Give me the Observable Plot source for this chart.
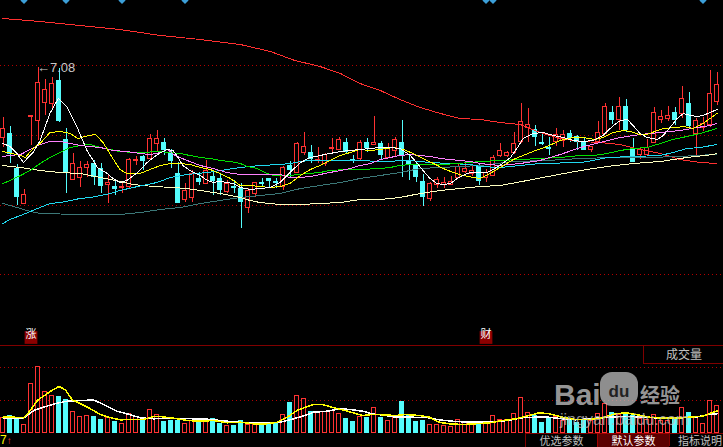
<!DOCTYPE html>
<html><head><meta charset="utf-8">
<script src="https://cdn.jsdelivr.net/npm/d3@7"></script>
<script src="https://cdn.jsdelivr.net/npm/@observablehq/plot@0.6"></script>
<style>
html,body{margin:0;padding:0;background:#000;overflow:hidden}
#wrap{position:relative;width:723px;height:447px;overflow:hidden;background:#000}
#wrap > svg, #wrap > div{position:absolute}
.ui{font-family:"Noto Sans CJK SC",sans-serif;font-size:12px;color:#c0c0c0;line-height:14px;white-space:nowrap}
.btn{font-family:"Noto Sans CJK SC",sans-serif;font-size:11px;color:#c0c0c0;line-height:12px;height:12px;white-space:nowrap;overflow:visible}
</style></head><body><div id="wrap"></div>
<script>
// ---------- candle data (index 0..102) ----------
const open = [6.38,6.42,6.07,5.72,6.59,6.55,6.73,6.72,6.95,6.36, 5.96,5.98,6.08,6.12,6.07,5.91,5.89,5.88,5.89,6.15, 6.19,6.17,6.32,6.33,6.22,6.02,5.76,5.78,5.97,5.92, 5.99,5.97,5.84,5.89,5.87,5.68,5.82,5.93,5.97,5.94, 5.89,6.10,6.03,6.23,6.23,6.15,6.12,6.27,6.26,6.33, 6.16,6.17,6.33,6.31,6.32,6.18,6.25,6.33,6.15,6.10, 5.94,5.77,5.91,5.91,5.91,5.98,6.04,6.02,6.09,5.98, 6.00,6.20,6.20,6.23,6.34,6.48,6.46,6.33,6.28,6.34, 6.35,6.42,6.39,6.34,6.26,6.34,6.42,6.63,6.56,6.69, 6.27,6.21,6.21,6.33,6.56,6.57,6.63,6.62,6.72,6.42, 6.48,6.51,6.74];
const high = [6.58,6.49,6.11,5.86,6.60,7.08,6.96,6.98,7.07,6.47, 6.22,6.14,6.14,6.15,6.12,6.00,5.94,5.93,6.17,6.19, 6.20,6.41,6.45,6.37,6.26,6.13,5.92,6.05,6.03,6.15, 6.03,6.02,5.95,5.95,5.92,5.87,5.93,5.97,5.97,5.97, 6.09,6.14,6.33,6.43,6.30,6.28,6.22,6.37,6.38,6.37, 6.20,6.35,6.37,6.59,6.34,6.32,6.38,6.55,6.20,6.12, 6.01,5.93,5.98,5.98,5.99,6.12,6.13,6.10,6.12,6.06, 6.20,6.32,6.24,6.43,6.72,6.67,6.50,6.43,6.38,6.47, 6.45,6.45,6.40,6.37,6.29,6.54,6.72,6.69,6.78,6.76, 6.37,6.28,6.36,6.68,6.65,6.69,6.68,6.89,6.83,6.57, 6.58,7.05,7.03];
const low = [6.28,6.12,5.70,5.71,6.30,6.35,6.60,6.65,6.53,5.82, 5.95,5.88,5.98,5.90,5.82,5.72,5.80,5.82,5.87,6.10, 6.05,6.15,6.23,6.20,6.07,5.72,5.73,5.73,5.90,5.91, 5.80,5.80,5.82,5.82,5.47,5.62,5.78,5.88,5.88,5.87, 5.85,5.97,6.02,6.20,6.12,6.12,6.09,6.23,6.25,6.22, 6.12,6.15,6.23,6.31,6.16,6.17,6.18,5.98,5.95,5.93, 5.69,5.74,5.87,5.87,5.90,5.97,6.02,5.99,5.90,5.93, 5.99,6.18,6.18,6.21,6.32,6.33,6.29,6.30,6.20,6.29, 6.28,6.33,6.25,6.25,6.23,6.33,6.41,6.51,6.45,6.43, 6.13,6.16,6.20,6.32,6.52,6.54,6.50,6.57,6.47,6.18, 6.44,6.48,6.70];
const close = [6.47,6.22,5.79,5.81,6.60,6.93,6.86,6.92,6.55,6.03, 6.12,6.08,6.11,5.99,5.90,5.93,5.87,5.89,6.16,6.16, 6.15,6.37,6.37,6.26,6.15,5.73,5.85,6.02,5.94,6.05, 5.95,5.86,5.92,5.88,5.74,5.85,5.93,5.92,5.95,5.93, 6.08,6.06,6.32,6.29,6.17,6.16,6.21,6.28,6.36,6.24, 6.15,6.33,6.28,6.33,6.21,6.28,6.36,6.21,6.11,5.99, 5.79,5.92,5.96,5.93,5.94,6.09,6.07,6.05,5.95,6.03, 6.18,6.25,6.23,6.32,6.54,6.51,6.39,6.32,6.27,6.41, 6.41,6.38,6.34,6.26,6.29,6.43,6.69,6.56,6.69,6.46, 6.14,6.26,6.28,6.63,6.59,6.60,6.56,6.77,6.50,6.55, 6.52,6.82,6.91];
const volume = [14.7,16.3,13,7.7,48.7,65.7,41,36.7,36,32.7, 21,15.7,16.7,16,13,14.7,10.3,9,19,15.7, 13,22.7,17.3,10.3,12,12,9,12,11,12, 13.7,9,6.7,7,12,8,8,9,9.3,9.3, 17.7,30,36.7,34,21,20.3,20.3,22,18.7,14, 11,15.3,14.7,24.7,14.3,12,15,31,17.7,11, 12,7.7,7.7,7,6,12.7,10.3,9.3,10,8.7, 17,12.7,12.7,18.7,34.7,19.3,17,10,13.3,16, 12,12.7,9.3,12,12,18.7,28.7,19.3,17.7,19.3, 17,13.7,12.7,17.7,12,11.3,12.7,24.7,20,15.3, 8.7,32,26.7];

// ---------- moving-average lines (index, value) ----------
const ma5Idx = [0,1,2,2.9,4.3,5.3,6.7,7.9,9.2,10.6,12,13.5,14.9,15.7,16.7,17.7,19.2,20.6,21.5,22.5,23.5,24.3,25,25.7,26.7,28.2,29.2,30,31,32,32.9,33.9,35.3,36.7,38.2,39.6,41,42.5,43.9,45.3,46.7,48.2,49.6,51,52.5,53.9,55.3,56.7,58.2,59.2,60,61,62,62.9,63.9,64.9,65.7,66.7,68.2,69.2,71,72.5,73.5,74.3,75.7,77.2,78.6,80,81.5,82.9,84.3,85.7,87.2,88.2,89.2,90,91,92,93.5,94.3,95.3,96.3,97.2,98.2,99.2,100,101,102];
const ma5Val = [6.32,6.29,6.22,6.13,6.23,6.35,6.62,6.77,6.68,6.48,6.25,6.08,6.02,5.97,5.93,5.95,6.03,6.13,6.18,6.23,6.26,6.25,6.18,6.10,6.05,6.00,5.95,5.93,5.94,5.93,5.92,5.88,5.86,5.87,5.88,5.93,6.03,6.13,6.18,6.20,6.22,6.24,6.25,6.26,6.27,6.28,6.28,6.27,6.20,6.12,6.05,5.97,5.92,5.91,5.92,5.97,6.00,6.03,6.03,6.03,6.10,6.18,6.28,6.37,6.42,6.43,6.40,6.38,6.35,6.34,6.35,6.40,6.50,6.55,6.56,6.50,6.42,6.38,6.36,6.40,6.48,6.57,6.62,6.60,6.59,6.60,6.63,6.66];
const ma10Idx = [0,2.5,3.2,4.3,5.3,6.7,8.2,9.6,10.7,12.2,13.2,14.3,15.6,16.7,17.7,19.6,21,22.5,23.9,25.3,26.7,28.2,29.6,31,32.5,33.9,35.3,36.7,38.2,39.6,41,42.5,43.9,45.3,46.7,48.2,49.6,51,52.5,53.9,55.7,57.2,58.6,60,61.5,62.9,64.3,65.7,67.2,68.2,69.6,71,72.9,74.3,75.7,77.7,79.6,81.5,82.9,84.6,85.7,87.2,88.6,89.6,91,92,93.5,94.3,96.3,97.2,98.6,100,101,102];
const ma10Val = [6.24,6.20,6.18,6.27,6.32,6.43,6.44,6.42,6.37,6.40,6.41,6.33,6.18,6.06,6.02,6.02,6.06,6.10,6.12,6.12,6.11,6.08,6.06,6.02,5.97,5.90,5.90,5.89,5.88,5.89,5.92,6.00,6.06,6.10,6.15,6.20,6.23,6.26,6.25,6.26,6.28,6.26,6.22,6.17,6.12,6.07,6.03,6.00,5.98,5.97,6.02,6.08,6.16,6.20,6.24,6.29,6.35,6.38,6.38,6.36,6.38,6.43,6.45,6.44,6.41,6.41,6.45,6.47,6.48,6.49,6.47,6.52,6.57,6.62];
const ma20Idx = [0,1,2.5,3.9,5.3,6.7,8.2,9.6,11,12.5,13.9,15.7,17.7,19.6,21,22.5,23.5,24.6,26.3,28.2,30,32,33.9,36.7,39.6,41,42.5,43.9,45.3,46.7,48.2,49.6,51,52.5,53.9,55.3,56.7,58.2,59.6,61,62.5,63.9,65.3,66.7,68.2,71,73.9,76.7,79.6,82.5,85.3,88.2,91,93.9,96.7,99.2,101,102];
const ma20Val = [6.19,6.20,6.21,6.26,6.31,6.34,6.34,6.32,6.30,6.29,6.28,6.25,6.24,6.22,6.21,6.23,6.26,6.20,6.15,6.10,6.07,6.03,6.01,6.01,6.01,5.98,5.98,5.99,6.01,6.03,6.05,6.07,6.10,6.12,6.16,6.18,6.20,6.21,6.20,6.19,6.17,6.16,6.15,6.14,6.12,6.10,6.12,6.15,6.21,6.28,6.33,6.38,6.41,6.43,6.45,6.48,6.50,6.52];
const ma30Idx = [0,1,2.5,3.9,5.3,6.7,8.2,9.6,11,12.5,13.9,15.3,16.7,18.6,20,22,23.9,25.3,26.7,28.2,29.6,31,32.5,33.9,34.9,36.3,37.7,38.6,41,43.5,45.3,46.7,48.9,51,53.9,55.3,56.7,58.2,62.9,64.9,66.7,68.2,71,73.9,76.7,79.6,82.5,84.3,86.3,88.2,90,92,93.9,95.7,97.7,99.6,101.5,102];
const ma30Val = [5.92,5.95,6.00,6.05,6.12,6.18,6.23,6.28,6.30,6.31,6.28,6.26,6.24,6.23,6.23,6.24,6.23,6.22,6.20,6.18,6.17,6.15,6.14,6.12,6.09,6.07,6.02,6.00,6.00,6.02,6.03,6.05,6.06,6.06,6.07,6.08,6.10,6.11,6.11,6.12,6.13,6.14,6.15,6.16,6.17,6.18,6.20,6.20,6.22,6.25,6.27,6.28,6.32,6.36,6.39,6.42,6.46,6.47];
const ma60Idx = [0,1,2.5,3.9,5.3,6.7,8.2,9.6,11,12.5,13.9,15.3,16.7,18.6,20.6,22,23.9,26.3,29.2,32,33.9,36.7,39.6,41,42.5,43.9,51,53.9,58.2,61,63.9,66.7,68.2,71,73.9,76.7,82.5,84.3,86.3,90,93.9,95.7,97.7,99.6,102];
const ma60Val = [5.52,5.56,5.60,5.64,5.68,5.72,5.73,5.75,5.77,5.78,5.80,5.82,5.85,5.88,5.91,5.93,5.98,6.01,6.03,6.06,6.08,6.10,6.11,6.12,6.14,6.15,6.15,6.14,6.15,6.13,6.12,6.11,6.09,6.08,6.10,6.12,6.13,6.15,6.18,6.19,6.20,6.23,6.27,6.28,6.31];
const ma120Idx = [0,2.5,5.3,8.2,11,13.9,16.7,18.6,21.5,24.3,26.3,28.2,31,33.9,35.3,36.7,39.6,42.5,45.3,48.2,51,53.9,56.7,59.6,62.5,65.3,68.2,71,74.9,78.6,82.5,86.3,90,93.9,97.7,101.5,102];
const ma120Val = [6.10,6.08,6.05,6.03,6.02,5.98,5.94,5.91,5.89,5.88,5.87,5.85,5.82,5.78,5.75,5.73,5.71,5.71,5.72,5.73,5.76,5.76,5.78,5.82,5.85,5.87,5.89,5.90,5.95,6.00,6.05,6.09,6.12,6.14,6.18,6.21,6.22];
const ma90Idx = [0,1,2.5,3.9,5.3,11,16.7,19.6,22.5,25.3,28.2,31,33.9,36.7,39.6,42.5,45.3,48.2,51,53.9,56.7,59.6,62.5,68.2,72.9,77.7,82.5,87.2,92,96.7,101.5,102];
const ma90Val = [5.72,5.70,5.67,5.64,5.62,5.61,5.61,5.63,5.66,5.68,5.72,5.75,5.78,5.80,5.82,5.87,5.90,5.93,5.97,6.00,6.03,6.07,6.08,6.10,6.14,6.15,6.17,6.18,6.18,6.19,6.21,6.21];
const ma250Idx = [0,5.3,11,16.7,22.5,28.2,33.9,38.2,41.7,45.3,48.2,51,53.9,56.7,59.6,62.5,65.3,68.2,71,73.9,76.7,79.6,82.5,85.3,88.2,91,93.9,96.7,99.6,102];
const ma250Val = [7.57,7.54,7.50,7.46,7.40,7.36,7.31,7.24,7.15,7.09,7.02,6.92,6.85,6.76,6.68,6.62,6.57,6.56,6.53,6.51,6.43,6.37,6.34,6.33,6.31,6.26,6.22,6.16,6.13,6.12];

// volume moving averages
const vma5Idx = [0,1.5,3,3.9,4.9,6.8,8,8.9,9.9,11.1,12.5,13.9,15.4,16.8,18.7,20.1,21.5,22.5,24.4,26.3,28.2,30.1,32,33.9,35.8,37.7,39.2,40.6,42,43,44.4,45.6,47.3,49.2,51.4,52.8,54.2,56.1,57.5,59.5,60.9,62.3,63.7,65.6,67.5,69.5,71.4,73.3,75.2,76.6,78,79.9,81.8,83.7,85.6,87.5,89,90.4,92.3,94.2,96.1,98,99.9,102];
const vma5Val = [15.3,15.3,14.7,22,32,41.3,46,42.7,32.7,28.7,23.7,18,14.7,12.7,13,13,16,16,14.3,12,11.3,12,9.7,10.3,8.7,8.7,10.3,15.3,22,24.7,28,28,24.7,21.3,17,18,17.7,17,18,17,15.3,10.3,8.7,8,8.7,9.7,12,13.7,17,19.7,18.7,15.3,13,13,14.7,18.7,19.7,18,15.3,14.3,14.3,15.3,16.3,21.5];
const vma10Idx = [0,3,4.4,5.8,7.7,9.2,11.5,12.9,14.4,16.3,18.2,19.6,21.5,23.4,25.4,27.3,29.2,31.1,33,34.9,37.7,39.6,41.5,43,44.4,46.3,48.2,49.6,51.4,52.8,54.2,56.1,58.5,60.9,62.3,64.2,66.5,68.4,70.3,72.2,74.1,76,77.9,79.9,81.8,83.7,85.6,87.5,89.4,91.3,93.2,95.1,97,98.9,100.8,102];
const vma10Val = [14.7,14.7,22,25.3,29.3,31.3,32,32.7,28,21.3,17.7,14.7,13.7,14.3,14,13.7,13.3,12,10.7,9.7,9.7,10.3,13.7,16.7,20.3,21.3,23.7,23,21.3,18.5,17.5,15.3,15.3,14.7,12.7,11.3,10.3,10.3,11,12,14.7,15.3,15.3,13.7,12.7,13.7,14.7,15.7,16,15.3,14.7,14.7,14.7,15.3,18,18.7];

// ---------- markers / labels ----------
const gridPrices = [7.11, 6.41, 5.71, 5.02];
const gridVolumes = [33, 66];
const infoMarkIdx = [3, 9, 17, 26, 69, 70, 100];
const eventIdx = [4, 69];
const eventText = ["涨", "财"];

// ---------- styling ----------
const RED = "#ff3232", CYAN = "#54fcfc", GRIDRED = "#b40000";
const X_DOMAIN = [-2.5 / 7, (723 - 2.5) / 7];

const bars = open.map((o, i) => ({i, o, h: high[i], l: low[i], c: close[i], v: volume[i], up: close[i] >= o}));
const upBars = bars.filter(d => d.up), dnBars = bars.filter(d => !d.up);
const toPts = (idx, val) => idx.map((x, k) => ({x, y: val[k]}));
const maLines = [
  {pts: toPts(ma250Idx, ma250Val), color: "#ff3030"},
  {pts: toPts(ma90Idx, ma90Val), color: "#3c7878"},
  {pts: toPts(ma120Idx, ma120Val), color: "#ffffc0"},
  {pts: toPts(ma60Idx, ma60Val), color: "#20d8f0"},
  {pts: toPts(ma30Idx, ma30Val), color: "#00e000"},
  {pts: toPts(ma20Idx, ma20Val), color: "#ff80ff"},
  {pts: toPts(ma10Idx, ma10Val), color: "#ffff00"},
  {pts: toPts(ma5Idx, ma5Val), color: "#ffffff"}
];
const peakI = d3.maxIndex(high);
const peak = [{i: peakI, h: high[peakI]}];
const events = eventIdx.map((i, k) => ({i, t: eventText[k]}));
const CR = "crispEdges";

const price = Plot.plot({
  width: 723, height: 345, margin: 0,
  style: {background: "#000", overflow: "visible"},
  x: {domain: X_DOMAIN, axis: null},
  y: {domain: [4.30, 7.75], axis: null},
  marks: [
    Plot.ruleY(gridPrices, {stroke: GRIDRED, strokeDasharray: "1,3", dy: 0.5, shapeRendering: CR}),
    Plot.ruleX(upBars, {x: "i", y1: "l", y2: "h", stroke: RED, shapeRendering: CR}),
    Plot.ruleX(dnBars, {x: "i", y1: "l", y2: "h", stroke: CYAN, shapeRendering: CR}),
    Plot.rect(upBars, {x1: d => d.i - 2/7, x2: d => d.i + 2/7, y1: "o", y2: "c", fill: "#000", stroke: RED, shapeRendering: CR}),
    Plot.rect(dnBars, {x1: d => d.i - 2/7, x2: d => d.i + 2/7, y1: "o", y2: "c", fill: CYAN, stroke: CYAN, shapeRendering: CR}),
    ...maLines.map(l => Plot.line(l.pts, {x: "x", y: "y", stroke: l.color, strokeWidth: 1, shapeRendering: CR})),
    Plot.text(peak, {x: "i", y: "h", text: d => "←" + d.h.toFixed(2), textAnchor: "start", dx: -1, fill: "#c8c8c8", fontSize: 13, fontFamily: "Liberation Sans"}),
    Plot.dot(infoMarkIdx, {x: d => d, frameAnchor: "top", symbol: "diamond2", r: 3.2, fill: "#3c9fd8", stroke: "none"}),
    Plot.dot(events, {x: "i", frameAnchor: "bottom", dy: -8, symbol: "square", r: 7.2, fill: "#8c0000", stroke: "none"}),
    Plot.text(events, {x: "i", frameAnchor: "bottom", dy: -8, text: "t", fill: "#ffffff", fontSize: 11, fontFamily: "Noto Sans CJK SC"})
  ]
});

const vb = bars;
const vol = Plot.plot({
  width: 723, height: 88, marginTop: 0, marginBottom: 1, marginLeft: 0, marginRight: 0,
  style: {background: "transparent", overflow: "visible"},
  x: {domain: X_DOMAIN, axis: null},
  y: {domain: [0, 87], axis: null},
  marks: [
    Plot.ruleY(gridVolumes, {stroke: GRIDRED, strokeDasharray: "1,3", dy: 0.5, shapeRendering: CR}),
    Plot.rect(vb.filter(d => d.up), {x1: d => d.i - 2/7, x2: d => d.i + 2/7, y1: 0, y2: "v", fill: "#000", stroke: RED, shapeRendering: CR}),
    Plot.rect(vb.filter(d => !d.up), {x1: d => d.i - 2/7, x2: d => d.i + 2/7, y1: 0, y2: "v", fill: CYAN, stroke: CYAN, shapeRendering: CR}),
    Plot.line(toPts(vma10Idx, vma10Val), {x: "x", y: "y", stroke: "#ffffff", shapeRendering: CR}),
    Plot.line(toPts(vma5Idx, vma5Val), {x: "x", y: "y", stroke: "#ffff00", shapeRendering: CR}),
    Plot.ruleY([0], {stroke: "#c00000", dy: 0.5, shapeRendering: CR})
  ]
});

const wrap = document.getElementById("wrap");
price.style.cssText = "position:absolute;left:0;top:0";
vol.style.cssText = "position:absolute;left:0;top:345px";
wrap.appendChild(price);
wrap.appendChild(vol);

function div(css, html, cls) {
  const e = document.createElement("div");
  e.style.cssText = "position:absolute;" + css;
  if (cls) e.className = cls;
  if (html != null) e.innerHTML = html;
  wrap.appendChild(e);
  return e;
}
// panel separator & volume label box
div("left:0;top:345px;width:723px;height:1px;background:#800000");
div("left:643px;top:345px;width:80px;height:18px;border-left:1px solid #800000;border-bottom:1px solid #800000;text-align:center;line-height:18px", "成交量", "ui");
// bottom bar
div("left:0;top:434px;font-family:'Liberation Sans';font-size:12px;line-height:12px;color:#ffff00", "7<span style='color:#ff3232;font-size:10px'>↑</span>");
div("left:525px;top:433px;width:71px;height:13px;border-left:1px solid #800000;border-top:1px solid #800000;text-align:center", "优选参数", "btn");
div("left:597px;top:433px;width:71px;height:13px;background:#5a0000;border-left:1px solid #a00000;border-top:1px solid #a00000;color:#ffffff;text-align:center", "默认参数", "btn");
div("left:669px;top:433px;width:54px;height:13px;border-left:1px solid #800000;border-top:1px solid #800000;padding-left:8px;box-sizing:border-box;width:54px", "指标说明", "btn");
// watermark
div("left:554px;top:380px;font-family:'Liberation Sans';font-weight:bold;font-size:30px;line-height:30px;color:rgba(190,190,190,0.8)", "Bai");
div("left:600px;top:372px;width:38px;height:34px;border-radius:12px;background:rgba(190,190,190,0.75);color:#222;font-family:'Liberation Sans';font-weight:bold;font-size:17px;line-height:40px;text-align:center", "du");
div("left:640px;top:384px;font-family:'Noto Sans CJK SC';font-weight:bold;font-size:20px;line-height:22px;color:rgba(190,190,190,0.8)", "经验");
div("left:560px;top:412px;font-family:'Liberation Sans';font-size:16px;line-height:16px;color:rgba(190,190,190,0.75)", "jingyan.baidu.com");
</script></body></html>
